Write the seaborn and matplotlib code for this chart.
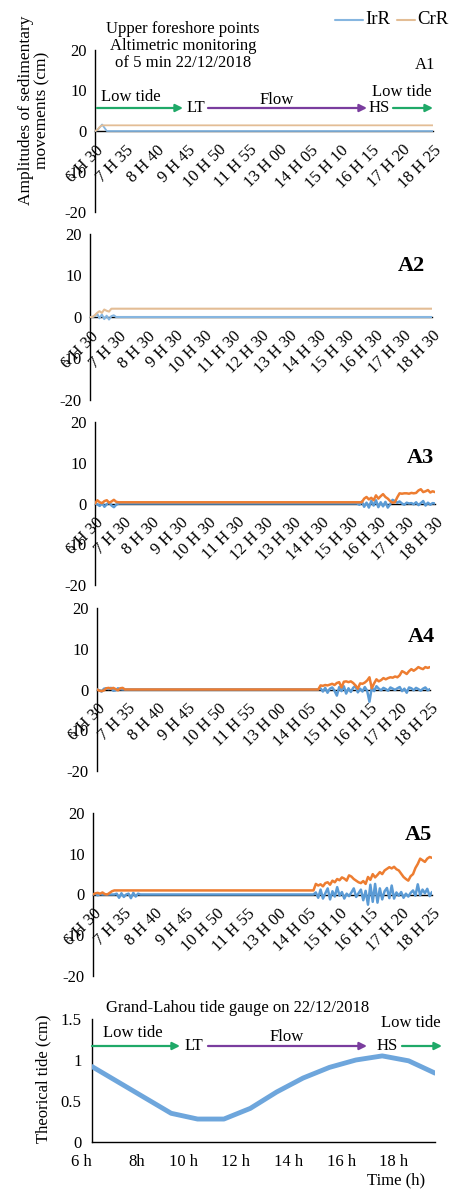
import numpy as np
import pandas as pd
import matplotlib
matplotlib.use('Agg')
import matplotlib.pyplot as plt
import seaborn as sns
from matplotlib.lines import Line2D
from matplotlib.patches import FancyArrowPatch

# ---------------- data ----------------
# A1 (5-min steps, 6 H 30 -> 18 H 25, 144 points)
a1_irr = [0.0, 0.2, 0.9, 1.6, 0.8, 0.0] + [0.0] * 138
a1_crr = [0.0, 0.3, 1.0, 1.4] + [1.4] * 140
a1_xlabels = ['6 H 30', '7 H 35', '8 H 40', '9 H 45', '10 H 50', '11 H 55',
              '13 H 00', '14 H 05', '15 H 10', '16 H 15', '17 H 20', '18 H 25']

# A2 (6 H 30 -> 18 H 30, 145 points)
a2_irr = [0.0, 0.0, 0.2, 0.8, -0.3, 0.6, -0.5, 0.3, -0.6, 0.2, 0.4, 0.0] + [0.0] * 133
a2_crr = [0.0, 0.0, 0.4, 1.0, 1.4, 1.0, 1.8, 1.5, 1.3, 2.0] + [2.0] * 135
a2_xlabels = ['6 H 30', '7 H 30', '8 H 30', '9 H 30', '10 H 30', '11 H 30', '12 H 30',
              '13 H 30', '14 H 30', '15 H 30', '16 H 30', '17 H 30', '18 H 30']

# A3 (145 points)
a3_irr = ([0.0, -0.2, -0.6, 0.1, -0.8, -0.2, 0.3, -0.5, -0.9, -0.3, 0.0] + [0.0] * 100 +
          [0.0, -0.3, 0.5, -0.8, 0.2, -1.0, 0.6, -0.5, 0.8, -0.9, 0.3, -0.7, 0.4, -1.0,
           -0.2, 0.9, 0.6, 0.2, 0.5, 0.0, -0.3, 0.2, 0.0, 0.1, -0.2, 0.3, -0.4, 0.1, 0.6,
           -0.5, 0.2, -0.3, 0.1, 0.0])
a3_crr = ([0.0, 0.8, 0.3, 0.1, 0.6, 0.8, 0.2, 0.5, 0.9, 0.4, 0.3] + [0.3] * 103 +
          [1.2, 1.6, 1.0, 1.4, 0.8, 2.0, 1.2, 1.8, 2.3, 1.6, 1.2, 0.6, 0.2, 0.3, 1.5, 2.5,
           2.4, 2.5, 2.5, 2.4, 2.6, 2.5, 2.6, 3.2, 3.5, 2.8, 3.0, 3.3, 2.7, 3.0, 2.8])
a3_xlabels = a2_xlabels

# A4 (144 points)
a4_irr = ([0.0, -0.2, -0.5, 0.2, 0.3, 0.1, 0.4, -0.3, -0.2, 0.3, 0.1, 0.0, 0.0] + [0.0] * 83 +
          [0.3, -0.5, 0.4, -0.8, 0.2, 0.5, -0.3, -1.5, 0.6, -0.4, 0.8, -1.0, 0.3, -0.6, 0.4,
           0.9, -0.7, 0.2, -0.5, 0.6, -0.3, -3.0, 0.5, -0.4, 0.8, 0.2, -0.2, 0.4, 0.1, -0.3,
           0.5, 0.2, -0.1, 0.3, 0.6, -0.4, 0.2, -0.8, 0.5, 0.3, -0.2, 0.4, 0.1, -0.3, 0.2,
           0.5, -0.2, 0.1])
a4_crr = ([0.0, -0.3, -0.4, -0.2, 0.3, 0.4, 0.2, 0.4, 0.1, -0.2, 0.3, 0.4, 0.0] + [0.0] * 83 +
          [1.0, 0.9, 1.1, 1.0, 1.2, 1.4, 1.1, 1.6, 1.8, 0.5, 1.9, 2.0, 1.8, 2.0, 1.6, 1.0,
           0.2, 1.5, 1.4, 1.7, 2.2, 3.0, 0.3, 1.5, 2.5, 2.0, 2.3, 2.8, 2.5, 2.8, 3.0, 2.9,
           3.2, 3.0, 3.5, 4.5, 4.2, 3.8, 4.5, 5.0, 4.6, 5.0, 5.5, 5.2, 5.0, 5.5, 5.3, 5.5])
a4_xlabels = a1_xlabels

# A5 (144 points)
a5_irr = ([0.0, 0.2, -0.2, 0.1, 0.0, 0.0, 0.0, 0.0, 0.0, 0.0, 0.2, -0.8, 0.3, -0.6, 0.0,
           0.2, -0.9, 0.4, -0.5, 0.2, 0.0] + [0.0] * 73 +
          [0.5, -0.8, 1.2, -1.0, 0.3, 1.5, -1.2, 0.8, -0.5, 1.8, -0.3, 0.6, -1.0, 0.2, -0.4,
           0.5, 1.5, -0.6, 0.3, 1.2, -1.4, 0.9, -2.5, 2.4, -1.8, 2.6, -2.0, 1.5, -1.2, 0.8,
           1.6, -0.9, 2.2, -1.0, 0.5, -0.3, 0.6, -0.8, 0.2, -0.5, 0.4, 1.0, -0.3, 2.5, -0.2,
           1.2, 0.3, 1.4, -0.4, 0.6])
a5_crr = ([0.0, 0.3, 0.4, 0.2, 0.5, 0.1, 0.0, 0.4, 0.8, 1.0, 1.0] + [1.0] * 83 +
          [2.6, 2.2, 2.5, 2.0, 2.8, 3.0, 2.4, 3.4, 3.0, 3.8, 3.5, 4.2, 3.9, 3.4, 4.7, 4.4,
           3.8, 3.4, 3.0, 2.8, 3.3, 2.6, 4.3, 3.6, 5.0, 4.2, 4.8, 5.5, 5.0, 5.9, 6.3, 6.7,
           6.4, 6.8, 6.2, 5.9, 5.1, 4.3, 3.8, 3.4, 4.5, 5.0, 6.5, 7.5, 8.8, 8.4, 8.0, 8.8,
           9.2, 9.0])
a5_xlabels = a1_xlabels

# Tide gauge (hourly)
tide_hours = [6, 7, 8, 9, 10, 11, 12, 13, 14, 15, 16, 17, 18, 19]
tide_values = [0.92, 0.73, 0.54, 0.35, 0.28, 0.28, 0.41, 0.61, 0.78, 0.91, 1.00, 1.05, 0.99, 0.84]
tide_xlabels = ['6 h', '', '8h', '', '10 h', '', '12 h', '', '14 h', '', '16 h', '', '18 h', '']

# ---------------- style ----------------
sns.set_theme(style='white')
plt.rcParams['font.family'] = ['Liberation Serif', 'DejaVu Serif']
plt.rcParams['text.color'] = 'black'
plt.rcParams['xtick.color'] = 'black'
plt.rcParams['ytick.color'] = 'black'
plt.rcParams['axes.labelcolor'] = 'black'
plt.rcParams['axes.unicode_minus'] = False

W, H = 458, 1189
fig = plt.figure(figsize=(W / 100, H / 100), dpi=100)


def rect(l, t, r, b):
    return [l / W, 1 - b / H, (r - l) / W, (b - t) / H]


def P(x, y):
    return (x / W, 1 - y / H)


BLUE = '#5B9BD5'
ORANGE = '#ED7D31'
PALE_BLUE = '#86B6E0'
TAN = '#E3BD95'
GREEN = '#1FA968'
PURPLE = '#7A3D9E'


def panel(box, irr, crr, xlabels, step, c_i, c_c, lw):
    ax = fig.add_axes(rect(*box))
    n = len(irr)
    df = pd.DataFrame({'idx': np.arange(n), 'IrR': irr, 'CrR': crr})
    sns.lineplot(data=df, x='idx', y='IrR', ax=ax, color=c_i, lw=lw, zorder=3)
    sns.lineplot(data=df, x='idx', y='CrR', ax=ax, color=c_c, lw=lw, zorder=3)
    ax.set_xlim(0, n - 1)
    ax.set_ylim(-20, 20)
    ax.set_yticks([-20, -10, 0, 10, 20])
    ax.set_xlabel('')
    ax.set_ylabel('')
    for s in ['top', 'right']:
        ax.spines[s].set_visible(False)
    ax.spines['bottom'].set_position(('data', 0))
    for s in ['left', 'bottom']:
        ax.spines[s].set_color('black')
        ax.spines[s].set_linewidth(1.0)
    ax.tick_params(axis='both', direction='out', length=4, width=1, labelsize=12)
    ax.tick_params(axis='x', pad=4)
    ax.tick_params(axis='y', pad=2)
    ax.set_xticks(np.arange(0, n, step))
    ax.set_xticklabels(xlabels)
    plt.setp(ax.get_xticklabels(), rotation=45, ha='right', rotation_mode='anchor')
    ax.patch.set_alpha(0)
    ax.grid(False)
    return ax


ax1 = panel((95, 50, 433, 212), a1_irr, a1_crr, a1_xlabels, 13, PALE_BLUE, TAN, 1.3)
ax2 = panel((90, 234, 432, 400), a2_irr, a2_crr, a2_xlabels, 12, PALE_BLUE, TAN, 1.5)
ax3 = panel((95, 422, 435, 585), a3_irr, a3_crr, a3_xlabels, 12, BLUE, ORANGE, 1.8)
ax4 = panel((97, 608, 430, 771), a4_irr, a4_crr, a4_xlabels, 13, BLUE, ORANGE, 1.8)
ax5 = panel((93, 813, 432, 976), a5_irr, a5_crr, a5_xlabels, 13, BLUE, ORANGE, 1.8)

# Tide panel
axt = fig.add_axes(rect(92, 1019, 435, 1142))
tdf = pd.DataFrame({'hour': tide_hours, 'tide': tide_values})
sns.lineplot(data=tdf, x='hour', y='tide', ax=axt, color='#6EA6DC', lw=3.5, zorder=3)
axt.set_xlim(6, 19)
axt.set_ylim(0, 1.5)
axt.set_yticks([0, 0.5, 1, 1.5])
axt.set_yticklabels(['0', '0.5', '1', '1.5'])
axt.set_xlabel('')
axt.set_ylabel('')
for s in ['top', 'right']:
    axt.spines[s].set_visible(False)
for s in ['left', 'bottom']:
    axt.spines[s].set_color('black')
    axt.spines[s].set_linewidth(1.0)
axt.tick_params(axis='both', direction='out', length=4, width=1, labelsize=12)
axt.tick_params(axis='x', pad=5)
axt.set_xticks(tide_hours)
axt.set_xticklabels(tide_xlabels)
plt.setp(axt.get_xticklabels(), ha='right')
axt.patch.set_alpha(0)
axt.grid(False)

# ---------------- texts ----------------
fig.text(*P(34, 110), 'Amplitudes of sedimentary\nmovements (cm)', rotation=90,
         ha='center', va='center', fontsize=12.5, linespacing=1.05)
fig.text(*P(183, 46), 'Upper foreshore points\nAltimetric monitoring\nof 5 min 22/12/2018',
         ha='center', va='center', fontsize=12, linespacing=1.1)
fig.text(*P(425, 65), 'A1', ha='center', va='center', fontsize=12)
fig.text(*P(411, 266), 'A2', ha='center', va='center', fontsize=16, fontweight='bold')
fig.text(*P(420, 458), 'A3', ha='center', va='center', fontsize=16, fontweight='bold')
fig.text(*P(421, 637), 'A4', ha='center', va='center', fontsize=16, fontweight='bold')
fig.text(*P(418, 835), 'A5', ha='center', va='center', fontsize=16, fontweight='bold')

fig.text(*P(43, 1079), 'Theorical tide (cm)', rotation=90, ha='center', va='center', fontsize=12)
fig.text(*P(396, 1180), 'Time (h)', ha='center', va='center', fontsize=12)
fig.text(*P(238, 1008), 'Grand-Lahou tide gauge on 22/12/2018', ha='center', va='center', fontsize=12)

# legend (manual)
fig.add_artist(Line2D([335 / W, 363 / W], [1 - 20 / H, 1 - 20 / H], color=PALE_BLUE, lw=1.5,
                      transform=fig.transFigure))
fig.text(*P(365, 20), 'IrR', ha='left', va='center', fontsize=13.5)
fig.add_artist(Line2D([397 / W, 415 / W], [1 - 20 / H, 1 - 20 / H], color=TAN, lw=1.5,
                      transform=fig.transFigure))
fig.text(*P(417, 20), 'CrR', ha='left', va='center', fontsize=13.5)


def arrow(x0, x1, y, color):
    fig.add_artist(FancyArrowPatch(P(x0, y), P(x1, y), transform=fig.transFigure,
                                   arrowstyle='-|>', mutation_scale=11, color=color, lw=1.6,
                                   shrinkA=0, shrinkB=0))


def phases(y_arrow, lt_x, lt_text_y, flow_y, lt2_y, lowtide_x, lt_end, lt_lbl, p_start, p_end,
           hs_x, g2_start, g2_end, lt2_x, flow_x):
    fig.text(*P(lowtide_x, lt_text_y), 'Low tide', ha='center', va='center', fontsize=12)
    arrow(lt_x, lt_end, y_arrow, GREEN)
    fig.text(*P(lt_lbl, y_arrow), 'LT', ha='center', va='center', fontsize=12)
    arrow(p_start, p_end, y_arrow, PURPLE)
    fig.text(*P(flow_x, flow_y), 'Flow', ha='center', va='center', fontsize=12)
    fig.text(*P(hs_x, y_arrow), 'HS', ha='center', va='center', fontsize=12)
    arrow(g2_start, g2_end, y_arrow, GREEN)
    fig.text(*P(lt2_x, lt2_y), 'Low tide', ha='center', va='center', fontsize=12)


phases(108, 97, 97, 100, 92, 131, 183, 196, 208, 367, 379, 393, 433, 402, 277)
phases(1046, 92, 1033, 1037, 1023, 133, 180, 194, 208, 367, 387, 402, 442, 411, 287)

fig.savefig('out.png', dpi=100)
